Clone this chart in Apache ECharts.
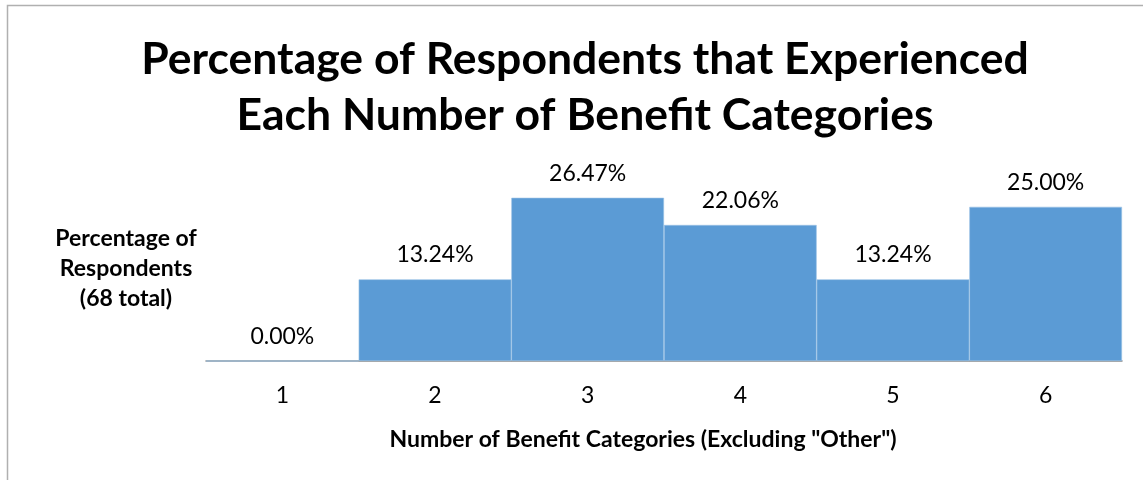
<!DOCTYPE html>
<html><head><meta charset="utf-8">
<script src="https://cdn.jsdelivr.net/npm/echarts@6/dist/echarts.min.js"></script>
<style>html,body{margin:0;padding:0;background:#fff}#c{width:1143px;height:480px}</style>
</head><body><div id="c"></div>
<script>
const categories = ['1','2','3','4','5','6'];
const percentages = [0.00, 13.24, 26.47, 22.06, 13.24, 25.00];
const titleLines = 'Percentage of Respondents that Experienced\nEach Number of Benefit Categories';
const yName = 'Percentage of\nRespondents\n(68 total)';
const xName = 'Number of Benefit Categories (Excluding "Other")';

const F = 'Lato, "Open Sans", sans-serif';
const chart = echarts.init(document.getElementById('c'));
chart.setOption({
  animation: false,
  backgroundColor: '#fff',
  graphic: [{
    type: 'rect', shape: {x: 7.5, y: 5.5, width: 1150, height: 500},
    style: {fill: 'none', stroke: '#b0b0b0', lineWidth: 1.5}, silent: true
  }],
  title: [{
    text: titleLines, left: 580, top: 27, textAlign: 'center',
    textStyle: {fontFamily: F, fontWeight: 'bold', fontSize: 44.5, lineHeight: 56, color: '#000'}
  }, {
    text: yName, left: 121, top: 219, textAlign: 'center',
    textStyle: {fontFamily: F, fontWeight: 'bold', fontSize: 23, lineHeight: 30, color: '#000'}
  }, {
    text: xName, left: 638, top: 423, textAlign: 'center',
    textStyle: {fontFamily: F, fontWeight: 'bold', fontSize: 23, color: '#000'}
  }],
  grid: {left: 206, right: 21, top: 176, bottom: 119},
  xAxis: {
    type: 'category', data: categories,
    axisLine: {lineStyle: {color: '#898989', width: 1.5}},
    axisTick: {show: false},
    axisLabel: {fontFamily: F, fontSize: 23, color: '#000', margin: 23}
  },
  yAxis: {type: 'value', min: 0, max: 30, show: false},
  series: [{
    type: 'bar', data: percentages, barCategoryGap: 0, barGap: 0,
    itemStyle: {color: '#5B9BD5', borderColor: '#9cc3e6', borderWidth: 0.6},
    label: {show: true, position: 'top', distance: 13, formatter: p => p.value.toFixed(2) + '%',
      fontFamily: F, fontSize: 23, color: '#000'}
  }]
});
</script></body></html>
